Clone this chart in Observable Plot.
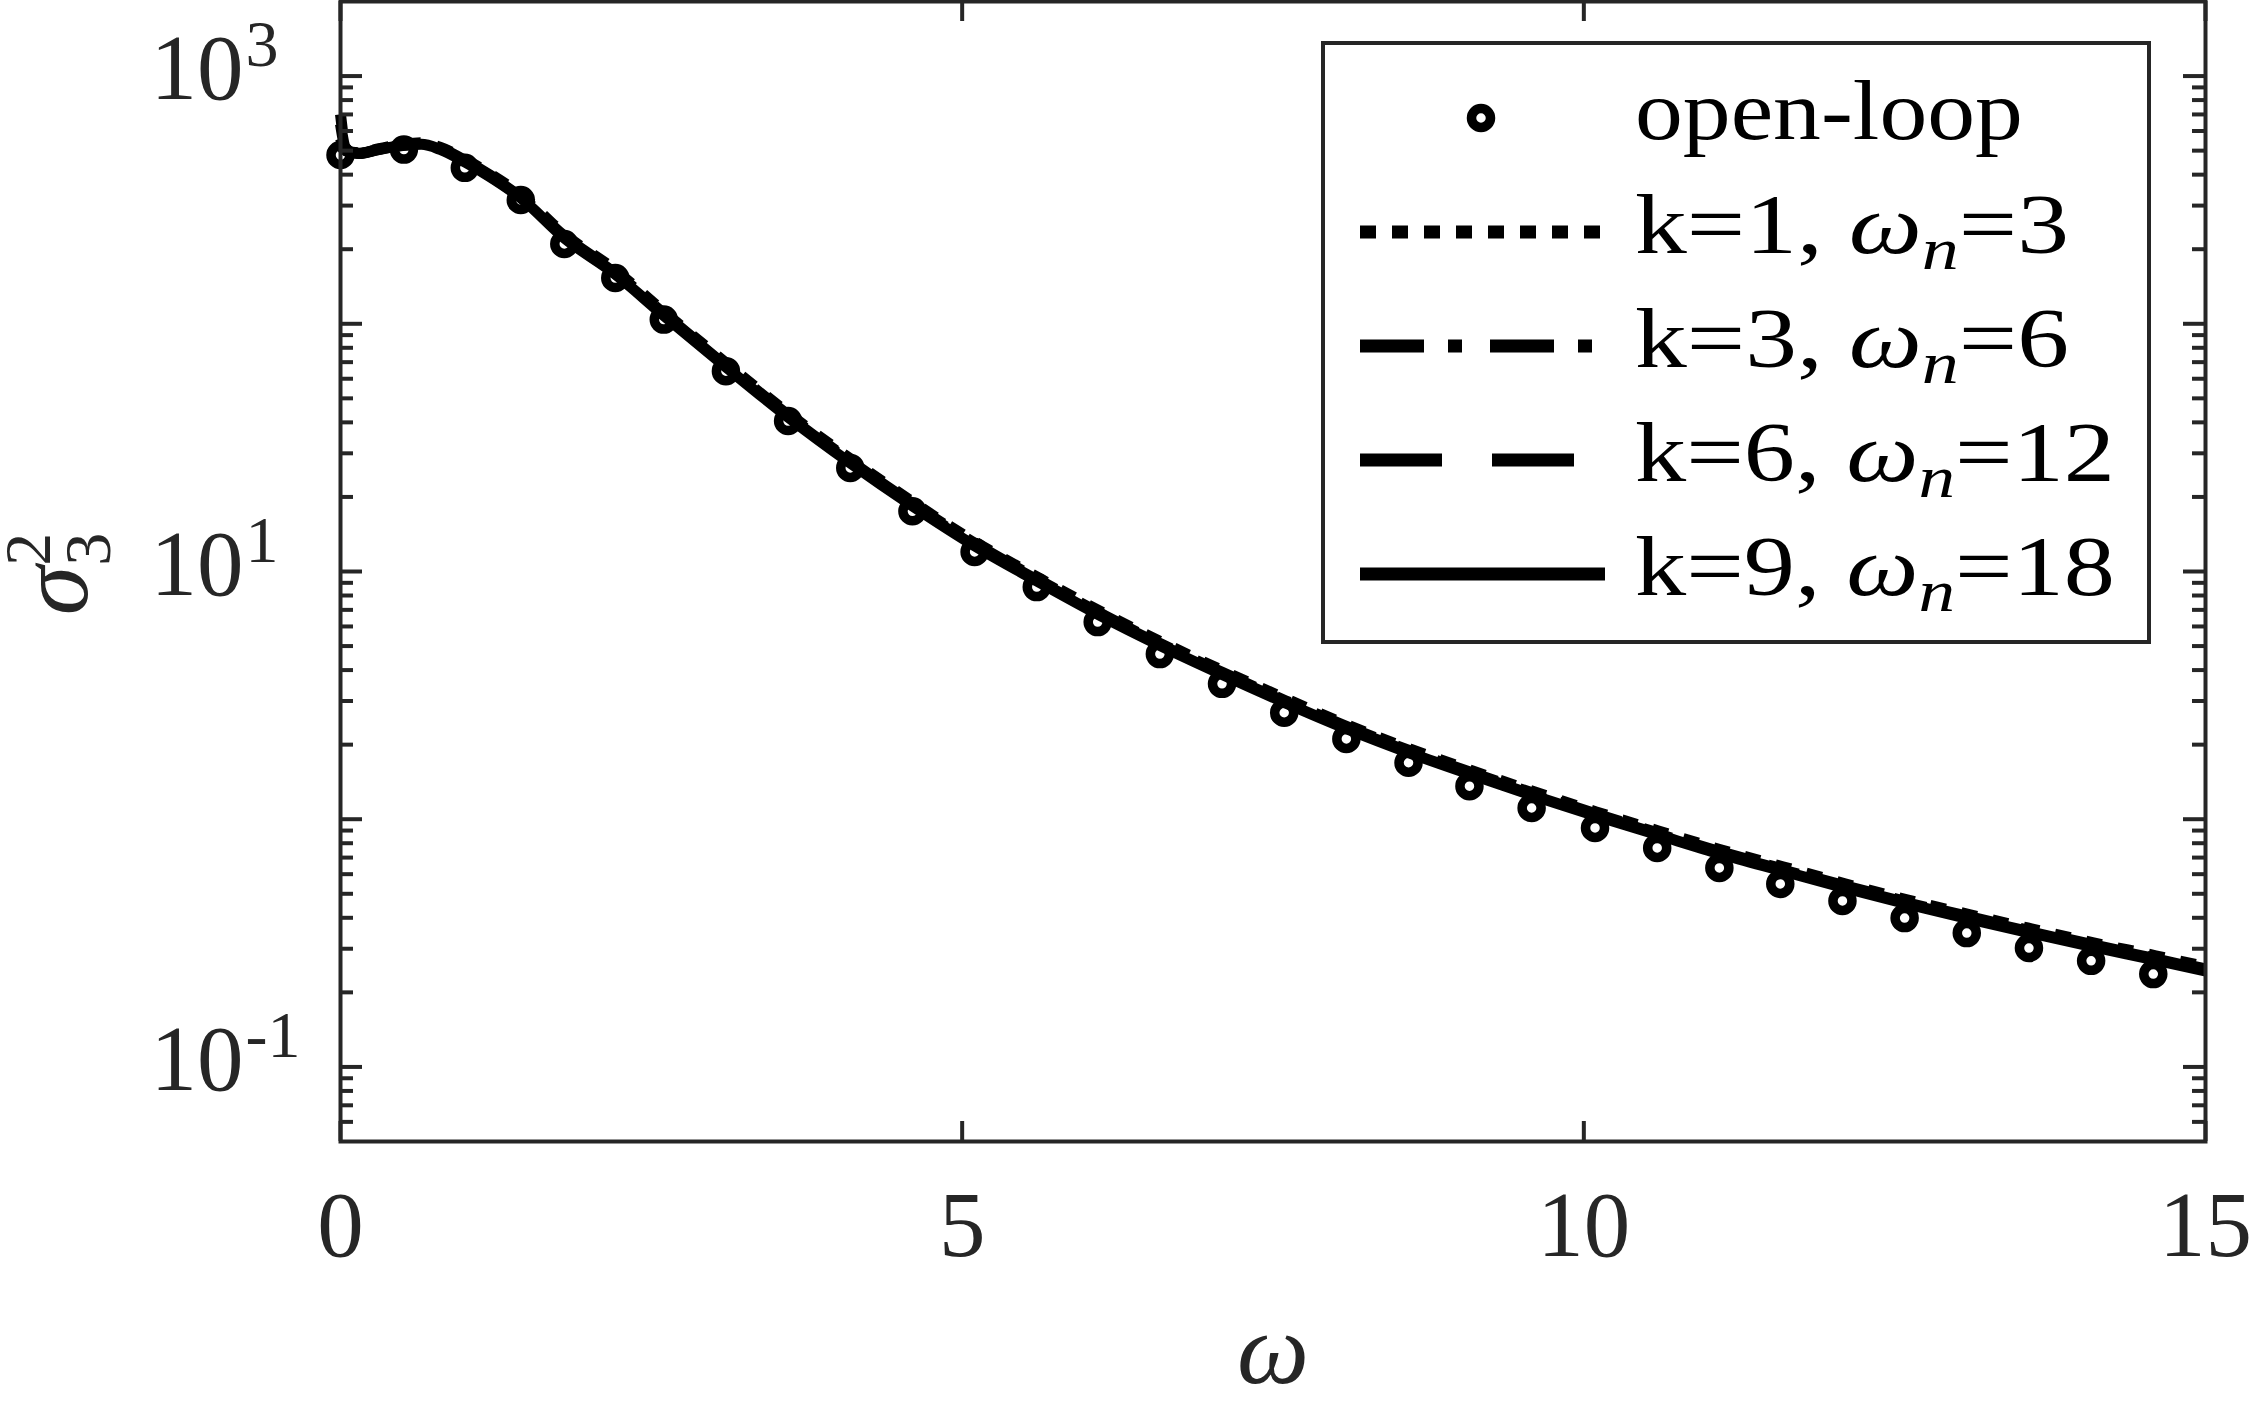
<!DOCTYPE html>
<html><head><meta charset="utf-8">
<script src="https://cdn.jsdelivr.net/npm/d3@7"></script>
<script src="https://cdn.jsdelivr.net/npm/@observablehq/plot@0.6"></script>
<style>
html,body{margin:0;padding:0;background:#fff;}
#wrap{position:relative;width:2250px;height:1417px;overflow:hidden;}
#legend{position:absolute;left:0;top:0;pointer-events:none;}
</style></head><body><div id="wrap"></div>
<script>
// ---- data ----
const lineOmega = [0, 0.05, 0.15, 0.3, 0.5, 0.65, 0.8, 1.0, 1.2, 1.45, 1.8, 2.2, 2.6, 3.1, 3.6, 4.1, 4.6, 5.1, 5.6, 6.1, 6.6, 7.1, 7.6, 8.1, 8.6, 9.1, 9.6, 10.1, 10.6, 11.1, 11.6, 12.1, 12.6, 13.1, 13.6, 14.1, 14.6, 15];
const sigmaK1 = [700, 500, 490, 508, 530, 538, 516, 462, 404, 332, 230, 166, 112, 69.5, 43.6, 28.5, 19.1, 13.2, 9.52, 6.95, 5.20, 3.97, 3.07, 2.40, 1.92, 1.57, 1.29, 1.07, 0.897, 0.753, 0.643, 0.549, 0.473, 0.412, 0.361, 0.317, 0.281, 0.254];
const sigmaK3 = [640, 499, 488, 506, 527, 534, 512, 457, 399, 327, 226, 163, 110, 68.3, 42.8, 28.0, 18.8, 13.0, 9.35, 6.82, 5.10, 3.90, 3.01, 2.36, 1.89, 1.54, 1.27, 1.05, 0.880, 0.739, 0.630, 0.539, 0.464, 0.404, 0.354, 0.311, 0.275, 0.249];
const sigmaK6 = [560, 498, 487, 505, 525, 532, 509, 453, 396, 324, 224, 161, 109, 67.6, 42.4, 27.7, 18.6, 12.8, 9.25, 6.75, 5.05, 3.86, 2.98, 2.33, 1.87, 1.53, 1.25, 1.04, 0.871, 0.731, 0.624, 0.533, 0.460, 0.400, 0.350, 0.308, 0.273, 0.246];
const sigmaK9 = [520, 498, 487, 504, 524, 530, 506, 450, 393, 322, 222, 160, 108, 66.9, 42.0, 27.4, 18.4, 12.7, 9.16, 6.68, 5.00, 3.82, 2.95, 2.31, 1.85, 1.51, 1.24, 1.03, 0.863, 0.724, 0.618, 0.528, 0.455, 0.396, 0.347, 0.305, 0.270, 0.244];
const openLoopOmega = [0, 0.51, 1.0, 1.45, 1.8, 2.21, 2.6, 3.1, 3.6, 4.1, 4.6, 5.1, 5.6, 6.09, 6.59, 7.09, 7.59, 8.09, 8.59, 9.08, 9.58, 10.09, 10.59, 11.09, 11.58, 12.08, 12.58, 13.08, 13.58, 14.08, 14.58];
const openLoopSigma = [480, 505, 426, 316, 210, 153, 104, 64.4, 40.5, 26.2, 17.5, 12.0, 8.65, 6.25, 4.64, 3.52, 2.69, 2.11, 1.69, 1.36, 1.11, 0.922, 0.766, 0.636, 0.548, 0.468, 0.399, 0.347, 0.302, 0.268, 0.237];
const seriesNames = ["k=1", "k=3", "k=6", "k=9"];
const seriesOmegaN = ["3", "6", "12", "18"];
const xTicks = [0, 5, 10, 15];
const yMajorTicks = [0.1, 1, 10, 100, 1000];
const yMinorTicks = [0.06, 0.07, 0.08, 0.09, 0.2, 0.3, 0.4, 0.5, 0.6, 0.7, 0.8, 0.9, 2, 3, 4, 5, 6, 7, 8, 9, 20, 30, 40, 50, 60, 70, 80, 90, 200, 300, 400, 500, 600, 700, 800, 900];
const yLabelTicks = [0.1, 10, 1000];
const yLabelBase = ["10", "10", "10"];
const yLabelExp = ["-1", "1", "3"];

// ---- styling ----
const W = 2250, H = 1417, mL = 340, mR = 45, mT = 1, mB = 276;
const pw = W - mL - mR, ph = H - mT - mB;
const FONT = "Liberation Serif, Times New Roman, serif";
const AX = "#262626";
const dashes = ["16,16", "64,24,14,28", "82,50", null];
const LW = 11;

const seriesValues = [sigmaK1, sigmaK3, sigmaK6, sigmaK9];
const lineMarks = seriesValues.map((vals, s) =>
  Plot.line(lineOmega.map((w, i) => ({w, v: vals[i]})), {
    x: "w", y: "v", stroke: "#000", strokeWidth: LW,
    strokeDasharray: dashes[s] ?? undefined, strokeLinecap: "butt", strokeLinejoin: "round",
    curve: "monotone-x"
  })
);
const openLoop = openLoopOmega.map((w, i) => ({w, v: openLoopSigma[i]}));

const tick = {stroke: AX, strokeWidth: 4};
const chart = Plot.plot({
  width: W, height: H,
  marginLeft: mL, marginRight: mR, marginTop: mT, marginBottom: mB,
  style: {background: "#fff", fontFamily: FONT, color: AX, overflow: "visible"},
  x: {domain: [0, 15], axis: null},
  y: {type: "log", domain: [0.05, 2000], axis: null},
  marks: [
    Plot.dot(openLoop, {x: "w", y: "v", r: 9.5, stroke: "#000", strokeWidth: 9.5, fill: "none"}),
    ...lineMarks,
    Plot.tickY(yMajorTicks, {y: d => d, insetRight: pw - 22, ...tick}),
    Plot.tickY(yMajorTicks, {y: d => d, insetLeft: pw - 22, ...tick}),
    Plot.tickY(yMinorTicks, {y: d => d, insetRight: pw - 13, ...tick}),
    Plot.tickY(yMinorTicks, {y: d => d, insetLeft: pw - 13, ...tick}),
    Plot.tickX(xTicks, {x: d => d, insetTop: ph - 20, ...tick}),
    Plot.tickX(xTicks, {x: d => d, insetBottom: ph - 20, ...tick}),
    Plot.frame({stroke: AX, strokeWidth: 4}),
    Plot.text(yLabelTicks, {y: d => d, text: (d, i) => yLabelBase[i], frameAnchor: "left", textAnchor: "start",
      lineAnchor: "bottom", dx: -190, dy: 23, fontSize: 93, fill: AX}),
    Plot.text(yLabelTicks, {y: d => d, text: (d, i) => yLabelExp[i], frameAnchor: "left", textAnchor: "start",
      lineAnchor: "bottom", dx: -95, dy: -10, fontSize: 66, fill: AX}),
    Plot.text(xTicks, {x: d => d, text: d => String(d), frameAnchor: "bottom", textAnchor: "middle",
      lineAnchor: "bottom", dy: 114, fontSize: 93, fill: AX}),
    Plot.text(["ω"], {text: d => d, frameAnchor: "bottom", textAnchor: "middle", lineAnchor: "bottom",
      dy: 241, fontSize: 102, fontStyle: "italic", fill: AX})
  ]
});
document.getElementById("wrap").appendChild(chart);

// y-axis label σ₃²
const svg = d3.select(chart);
const yl = svg.append("text").attr("transform", "translate(87,574) rotate(-90)")
  .attr("text-anchor", "middle").attr("font-family", FONT).attr("font-size", 100).attr("fill", AX);
yl.append("tspan").attr("font-style", "italic").text("σ");
yl.append("tspan").attr("font-size", 66).attr("dy", 23).text("3");
yl.append("tspan").attr("font-size", 66).attr("dx", -33).attr("dy", -60).text("2");

// legend
const lg = d3.select("#wrap").append("svg").attr("id", "legend").attr("width", W).attr("height", H);
lg.append("rect").attr("x", 1323).attr("y", 43).attr("width", 826).attr("height", 599)
  .attr("fill", "#fff").attr("stroke", AX).attr("stroke-width", 4);
const rowBase = 139, rowStep = 114, textX = 1635;
const legendWidths = [388, 434, 434, 480, 480];
// stretch text horizontally so its footprint matches the reference's wider serif face
function fitWidth(t, target, baseY) {
  const cur = t.node().getComputedTextLength();
  const sx = target / cur;
  t.attr("x", 0).attr("y", 0).attr("transform", `translate(${textX},${baseY}) scale(${sx.toFixed(3)},1)`);
}
lg.append("circle").attr("cx", 1481).attr("cy", rowBase - 21).attr("r", 9.5)
  .attr("fill", "none").attr("stroke", "#000").attr("stroke-width", 9.5);
const t0 = lg.append("text").attr("font-family", FONT).attr("font-size", 84)
  .attr("fill", "#000").text("open-loop");
fitWidth(t0, legendWidths[0], rowBase);
seriesNames.forEach((nm, i) => {
  const b = rowBase + rowStep * (i + 1);
  const ln = lg.append("line").attr("x1", 1360).attr("x2", 1605).attr("y1", b - 21).attr("y2", b - 21)
    .attr("stroke", "#000").attr("stroke-width", LW + 2);
  if (dashes[i]) ln.attr("stroke-dasharray", dashes[i]);
  const t = lg.append("text").attr("font-family", FONT).attr("font-size", 84).attr("fill", "#000");
  t.append("tspan").text(nm + ", ");
  t.append("tspan").attr("font-style", "italic").text("ω");
  t.append("tspan").attr("font-style", "italic").attr("font-size", 60).attr("dy", 16).text("n");
  t.append("tspan").attr("dy", -16).text("=" + seriesOmegaN[i]);
  fitWidth(t, legendWidths[i + 1], b);
});
</script>
</body></html>
